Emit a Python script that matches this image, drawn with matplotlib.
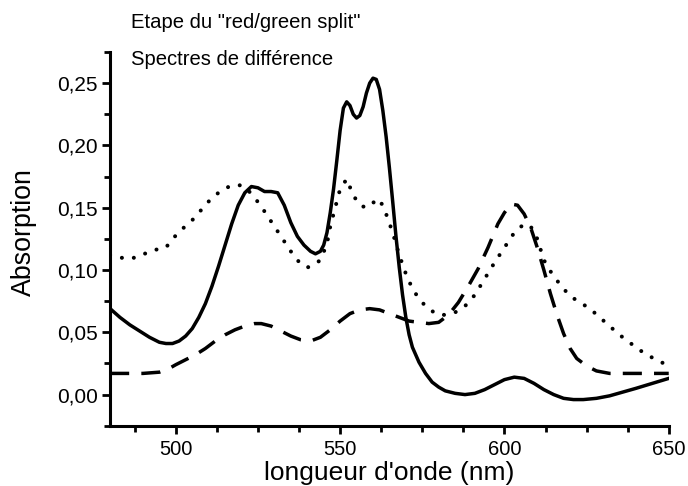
import matplotlib.pyplot as plt
from matplotlib.ticker import MultipleLocator, FuncFormatter

plt.rcParams['font.family'] = ['Liberation Sans', 'DejaVu Sans']

# Spectre en trait plein
lambda_plein = [480, 483, 486, 489, 492, 495, 497, 499, 501, 503, 505, 507, 509, 511, 513,
                515, 517, 519, 521, 523, 525, 527, 529, 531, 533, 535, 537, 539, 541, 542.5,
                544, 545, 546, 547, 548, 549, 550, 551, 552, 553, 554, 555, 556, 557, 558,
                559, 560, 561, 562, 563, 564, 565, 566, 567, 568, 569, 570, 571, 572, 574,
                576, 578, 580, 582, 585, 588, 591, 594, 597, 600, 603, 606, 609, 612, 615,
                618, 621, 624, 628, 632, 636, 640, 645, 650]
abs_plein = [0.069, 0.062, 0.056, 0.051, 0.046, 0.042, 0.041, 0.041, 0.043, 0.047, 0.053, 0.062,
             0.073, 0.087, 0.103, 0.120, 0.137, 0.152, 0.162, 0.167, 0.166, 0.163, 0.163, 0.162,
             0.152, 0.138, 0.127, 0.120, 0.115, 0.113, 0.115, 0.120, 0.130, 0.146, 0.165, 0.188,
             0.212, 0.230, 0.235, 0.232, 0.225, 0.222, 0.224, 0.231, 0.242, 0.250, 0.254, 0.253,
             0.245, 0.228, 0.207, 0.182, 0.155, 0.127, 0.102, 0.080, 0.062, 0.048, 0.038, 0.026,
             0.017, 0.010, 0.006, 0.003, 0.001, 0.000, 0.001, 0.004, 0.008, 0.012, 0.014, 0.013,
             0.009, 0.004, 0.000, -0.003, -0.004, -0.004, -0.003, -0.001, 0.002, 0.005, 0.009,
             0.013]

# Spectre en tirets
lambda_tirets = [480, 485, 490, 495, 498, 500, 503, 506, 509, 512, 515, 518, 521, 524, 526,
                 529, 532, 535, 538, 541, 544, 547, 550, 553, 556, 559, 562, 565, 568, 571,
                 574, 577, 580, 583, 586, 589, 592, 595, 598, 600, 602, 604, 606, 608, 610,
                 612, 614, 616, 618, 620, 622, 625, 628, 632, 640, 650]
abs_tirets = [0.017, 0.017, 0.017, 0.018, 0.021, 0.024, 0.028, 0.032, 0.037, 0.043, 0.048,
              0.052, 0.055, 0.057, 0.057, 0.055, 0.051, 0.047, 0.044, 0.043, 0.046, 0.052,
              0.059, 0.065, 0.068, 0.069, 0.068, 0.065, 0.062, 0.059, 0.058, 0.057, 0.058,
              0.064, 0.074, 0.087, 0.101, 0.118, 0.137, 0.146, 0.153, 0.152, 0.145, 0.134,
              0.118, 0.100, 0.081, 0.064, 0.049, 0.037, 0.029, 0.023, 0.019, 0.017, 0.017,
              0.017]

# Spectre en pointillés
lambda_points = [480, 483, 486, 489, 492, 495, 497, 499, 502, 505, 508, 511, 514, 517, 520,
                 522, 524, 526, 528, 530, 532, 534, 536, 538, 540, 542, 544, 546, 547, 548.5,
                 550, 552, 554, 556, 558, 560, 562, 564, 566, 568, 570, 572, 574, 576, 578,
                 580, 582, 585, 588, 591, 594, 597, 600, 603, 606, 608, 610, 612, 614, 617,
                 620, 623, 626, 629, 632, 635, 638, 641, 644, 647, 650]
abs_points = [0.112, 0.110, 0.109, 0.111, 0.115, 0.117, 0.118, 0.125, 0.133, 0.140, 0.149,
              0.158, 0.164, 0.168, 0.168, 0.164, 0.158, 0.151, 0.143, 0.135, 0.127, 0.119,
              0.111, 0.105, 0.102, 0.104, 0.108, 0.121, 0.135, 0.150, 0.165, 0.173, 0.160,
              0.152, 0.150, 0.154, 0.157, 0.145, 0.130, 0.112, 0.097, 0.085, 0.077, 0.071,
              0.067, 0.064, 0.064, 0.066, 0.071, 0.080, 0.093, 0.106, 0.118, 0.130, 0.137,
              0.135, 0.125, 0.108, 0.099, 0.088, 0.079, 0.074, 0.069, 0.062, 0.055, 0.048,
              0.042, 0.036, 0.031, 0.027, 0.023]

fig = plt.figure(figsize=(6.88, 4.86), dpi=100)
ax = fig.add_axes([0.160, 0.124, 0.812, 0.769])

ax.plot(lambda_plein, abs_plein, color='black', lw=2.5, solid_joinstyle='round')
ax.plot(lambda_tirets, abs_tirets, color='black', lw=2.5, linestyle=(0, (5.5, 3.5)))
ax.plot(lambda_points, abs_points, color='black', lw=2.9, linestyle=(0, (0.01, 3.0)),
        dash_capstyle='round')

ax.set_xlim(480, 650)
ax.set_ylim(-0.025, 0.275)

ax.xaxis.set_major_locator(MultipleLocator(50))
ax.xaxis.set_minor_locator(MultipleLocator(12.5))
ax.yaxis.set_major_locator(MultipleLocator(0.05))
ax.yaxis.set_minor_locator(MultipleLocator(0.025))
ax.yaxis.set_major_formatter(FuncFormatter(lambda v, p: f"{v:.2f}".replace('.', ',').replace('-0,00', '0,00')))

for s in ['top', 'right']:
    ax.spines[s].set_visible(False)
for s in ['left', 'bottom']:
    ax.spines[s].set_linewidth(2.2)

ax.tick_params(which='major', direction='out', length=6, width=2)
ax.tick_params(which='minor', direction='out', length=4.5, width=2)
ax.tick_params(axis='x', which='major', pad=4, labelsize=14.5)
ax.tick_params(axis='y', which='major', pad=3, labelsize=15)

ax.set_xlabel("longueur d'onde (nm)", fontsize=19)
ax.xaxis.set_label_coords(0.5, -0.094)
ax.set_ylabel("Absorption", fontsize=19.3)
ax.yaxis.set_label_coords(-0.131, 0.517)

fig.text(0.19, 0.942, 'Etape du "red/green split"', fontsize=14.6, va='baseline')
fig.text(0.19, 0.866, 'Spectres de différence', fontsize=14.6, va='baseline')

fig.savefig('out.png', dpi=100)
